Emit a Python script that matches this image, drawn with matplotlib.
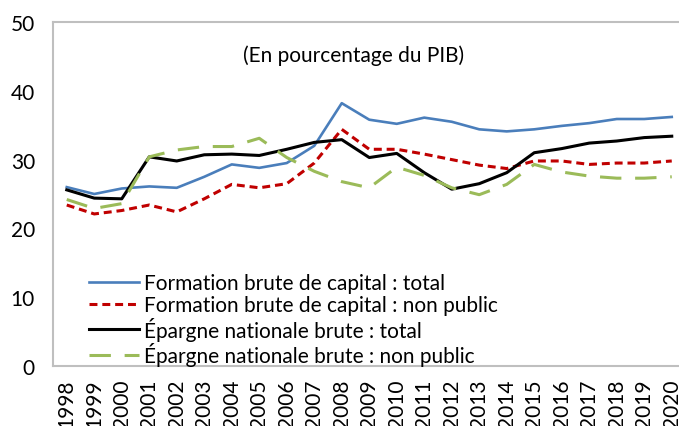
import numpy as np
import matplotlib
matplotlib.use("Agg")
import matplotlib.pyplot as plt

# data (% du PIB)
years = [str(y) for y in range(1998, 2021)]
fbc_total = [26.0, 25.0, 25.8, 26.1, 25.9, 27.5, 29.3, 28.8, 29.5, 32.0, 38.2,
             35.8, 35.2, 36.1, 35.5, 34.4, 34.1, 34.4, 34.9, 35.3, 35.9, 35.9, 36.2]
fbc_nonpub = [23.4, 22.1, 22.6, 23.4, 22.4, 24.3, 26.4, 25.9, 26.5, 29.5, 34.4,
              31.5, 31.5, 30.8, 30.0, 29.2, 28.7, 29.8, 29.8, 29.3, 29.5, 29.5, 29.8]
epargne_total = [25.6, 24.4, 24.3, 30.4, 29.8, 30.7, 30.8, 30.6, 31.5, 32.5, 32.9,
                 30.3, 30.9, 28.1, 25.7, 26.5, 28.1, 31.0, 31.6, 32.4, 32.7, 33.2, 33.4]
epargne_nonpub = [24.2, 22.9, 23.6, 30.4, 31.4, 31.9, 31.9, 33.1, 30.3, 28.3, 26.8,
                  25.9, 28.9, 27.7, 25.9, 24.9, 26.4, 29.3, 28.2, 27.6, 27.3, 27.3, 27.5]
labels = ["Formation brute de capital : total",
          "Formation brute de capital : non public",
          "Épargne nationale brute : total",
          "Épargne nationale brute : non public"]

plt.rcParams['font.family'] = ['Lato', 'DejaVu Sans']
fs = 15

fig = plt.figure(figsize=(6.79, 4.27), dpi=100)
ax = fig.add_axes([53/679, 1 - 367/427, (685.5 - 53)/679, (367 - 23)/427])

x = np.arange(len(years))
ax.plot(x, fbc_total, color='#4A7EBB', lw=1.9, label=labels[0])
ax.plot(x, fbc_nonpub, color='#C00000', lw=2.2, dashes=(2.6, 1.6), label=labels[1])
ax.plot(x, epargne_total, color='black', lw=2.2, label=labels[2])
ax.plot(x, epargne_nonpub, color='#9BBB59', lw=2.2, dashes=(7, 4.5), label=labels[3])

ax.set_xlim(-0.5, len(years) - 0.5)
ax.set_ylim(0, 50)
ax.set_yticks(range(0, 51, 10))
ax.set_xticks(x)
ax.set_xticklabels(years, rotation=90, fontsize=fs)
ax.tick_params(axis='y', labelsize=fs, length=0, pad=13)
ax.tick_params(axis='x', length=0, pad=9)
for s in ax.spines.values():
    s.set_color('#BFBFBF')
    s.set_linewidth(1.5)

ax.text(0.475, 0.905, "(En pourcentage du PIB)", transform=ax.transAxes,
        ha='center', va='center', fontsize=fs)

ax.legend(loc='lower left', bbox_to_anchor=(0.043, -0.025), frameon=False,
          fontsize=fs, handlelength=2.4, handletextpad=0.25, labelspacing=0.08,
          borderaxespad=0.0)

fig.savefig("out.png", dpi=100)
